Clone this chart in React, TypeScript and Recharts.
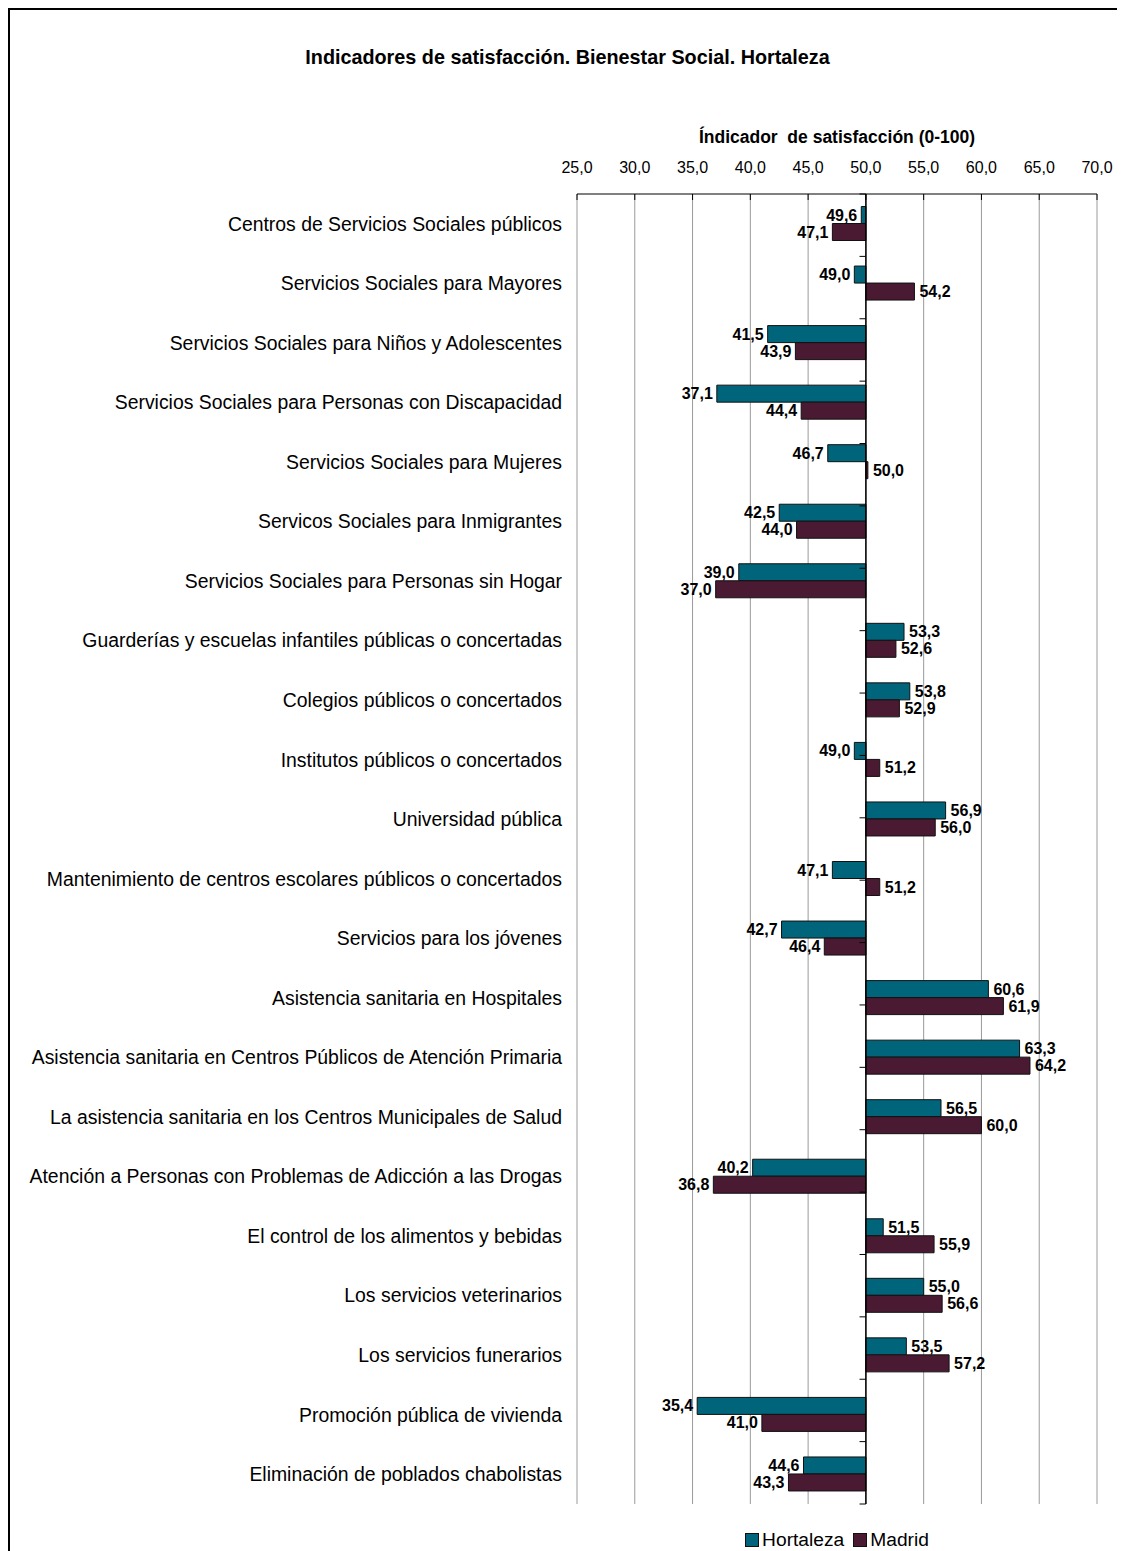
import {
  Bar,
  BarChart,
  CartesianGrid,
  LabelList,
  Legend,
  ReferenceLine,
  XAxis,
  YAxis,
} from "recharts";

const categories = [
  "Centros de Servicios Sociales públicos",
  "Servicios Sociales para Mayores",
  "Servicios Sociales para Niños y Adolescentes",
  "Servicios Sociales para Personas con Discapacidad",
  "Servicios Sociales para Mujeres",
  "Servicos Sociales para Inmigrantes",
  "Servicios Sociales para Personas sin Hogar",
  "Guarderías y escuelas infantiles públicas o concertadas",
  "Colegios públicos o concertados",
  "Institutos públicos o concertados",
  "Universidad pública",
  "Mantenimiento de centros escolares públicos o concertados",
  "Servicios para los jóvenes",
  "Asistencia sanitaria en Hospitales",
  "Asistencia sanitaria en Centros Públicos de Atención Primaria",
  "La asistencia sanitaria en los Centros Municipales de Salud",
  "Atención a Personas con Problemas de Adicción a las Drogas",
  "El control de los alimentos y bebidas",
  "Los servicios veterinarios",
  "Los servicios funerarios",
  "Promoción pública de vivienda",
  "Eliminación de poblados chabolistas",
];

const hortaleza = [
  49.6, 49.0, 41.5, 37.1, 46.7, 42.5, 39.0, 53.3, 53.8, 49.0, 56.9, 47.1, 42.7,
  60.6, 63.3, 56.5, 40.2, 51.5, 55.0, 53.5, 35.4, 44.6,
];
const madrid = [
  47.1, 54.2, 43.9, 44.4, 50.0, 44.0, 37.0, 52.6, 52.9, 51.2, 56.0, 51.2, 46.4,
  61.9, 64.2, 60.0, 36.8, 55.9, 56.6, 57.2, 41.0, 43.3,
];

const xTicks = [25, 30, 35, 40, 45, 50, 55, 60, 65, 70];
const BASE = 50;

const TEAL = "#00657A";
const MAROON = "#4A1932";
const FONT = "'Liberation Sans', Arial, sans-serif";

const data = categories.map((name, i) => ({
  name,
  hortaleza: hortaleza[i],
  madrid: madrid[i],
  hRange: [Math.min(BASE, hortaleza[i]), Math.max(BASE, hortaleza[i])],
  mRange: [Math.min(BASE, madrid[i]), Math.max(BASE, madrid[i])],
}));

// boundaries between categories, for the little marks on the 50 line
const boundaries = categories.map((_, i) => i).concat(categories.length);

const fmt = (v: number) => v.toFixed(1).replace(".", ",");

function valueLabel(values: number[]) {
  return (props: any) => {
    const { x, y, width, height, index } = props;
    const v = values[index];
    const left = v < BASE;
    return (
      <text
        x={left ? x - 4 : x + width + 5}
        y={y + height / 2}
        textAnchor={left ? "end" : "start"}
        dominantBaseline="central"
        fontSize={16}
        fontWeight="bold"
        fontFamily={FONT}
        fill="#000"
      >
        {fmt(v)}
      </text>
    );
  };
}

function LegendBox(props: any) {
  const items = props.payload || [];
  return (
    <div
      style={{
        height: 46,
        paddingTop: 26,
        boxSizing: "border-box",
        display: "flex",
        justifyContent: "center",
        alignItems: "center",
        fontFamily: FONT,
        fontSize: 19.2,
        lineHeight: "20px",
        color: "#000",
      }}
    >
      {items.map((it: any, i: number) => (
        <span
          key={it.value}
          style={{ display: "inline-flex", alignItems: "center", marginLeft: i ? 9 : 0 }}
        >
          <span
            style={{
              display: "inline-block",
              width: 12,
              height: 12,
              background: it.color,
              border: "1px solid #111",
              marginRight: 3,
            }}
          />
          {it.value}
        </span>
      ))}
    </div>
  );
}

export default function App() {
  return (
    <div
      style={{
        position: "relative",
        width: 1117,
        height: 1543,
        borderLeft: "2px solid #000",
        borderTop: "2px solid #000",
        boxSizing: "border-box",
        fontFamily: FONT,
        background: "#fff",
      }}
    >
      <div
        style={{
          position: "absolute",
          top: 37,
          left: 0,
          width: 1115,
          textAlign: "center",
          fontSize: 19.8,
          fontWeight: "bold",
          lineHeight: "20px",
        }}
      >
        Indicadores de satisfacción. Bienestar Social. Hortaleza
      </div>
      <div
        style={{
          position: "absolute",
          top: 118,
          left: 567,
          width: 520,
          textAlign: "center",
          fontSize: 17.5,
          fontWeight: "bold",
          lineHeight: "18px",
          whiteSpace: "pre",
        }}
      >
        Índicador  de satisfacción (0-100)
      </div>
      <div style={{ position: "absolute", top: 0, left: 0 }}>
        <BarChart
          width={1115}
          height={1541}
          data={data}
          layout="vertical"
          barCategoryGap="21%"
          barGap={0}
          margin={{ top: 120, right: 28, bottom: 1, left: 0 }}
        >
          <CartesianGrid horizontal={false} stroke="#9a9a9a" />
          <XAxis
            type="number"
            orientation="top"
            domain={[25, 70]}
            ticks={xTicks}
            height={64}
            tickFormatter={fmt}
            tick={{ fontSize: 16, fill: "#000", fontFamily: FONT }}
            tickSize={-6}
            tickMargin={27}
            axisLine={{ stroke: "#000" }}
            tickLine={{ stroke: "#000" }}
            allowDataOverflow
          />
          <YAxis
            type="category"
            dataKey="name"
            width={567}
            interval={0}
            tick={{ fontSize: 19.4, fill: "#000", fontFamily: FONT }}
            tickMargin={9}
            axisLine={false}
            tickLine={false}
          />
          <YAxis yAxisId="sep" type="number" domain={[0, categories.length]} hide />
          <Bar
            dataKey="hRange"
            name="Hortaleza"
            fill={TEAL}
            stroke="#111"
            strokeWidth={1}
            minPointSize={2}
            isAnimationActive={false}
          >
            <LabelList dataKey="hortaleza" content={valueLabel(hortaleza)} />
          </Bar>
          <Bar
            dataKey="mRange"
            name="Madrid"
            fill={MAROON}
            stroke="#111"
            strokeWidth={1}
            minPointSize={2}
            isAnimationActive={false}
          >
            <LabelList dataKey="madrid" content={valueLabel(madrid)} />
          </Bar>
          <ReferenceLine x={BASE} stroke="#000" strokeWidth={1.5} />
          {boundaries.map((b) => (
            <ReferenceLine
              key={b}
              yAxisId="sep"
              segment={[
                { x: BASE - 0.55, y: b },
                { x: BASE, y: b },
              ]}
              stroke="#000"
            />
          ))}
          <Legend
            verticalAlign="bottom"
            content={LegendBox}
            wrapperStyle={{ left: 567, width: 520 }}
          />
        </BarChart>
      </div>
    </div>
  );
}
